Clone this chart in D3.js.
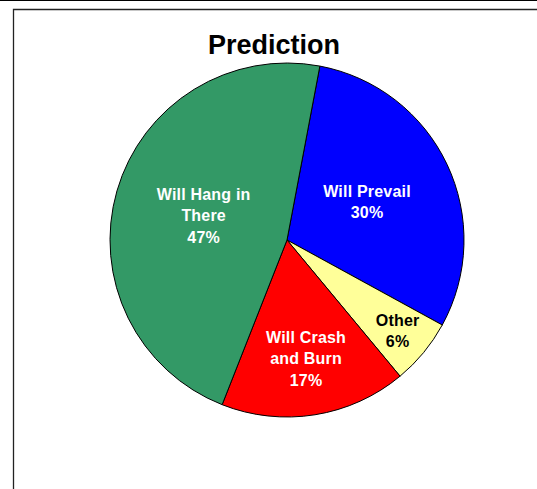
<!DOCTYPE html>
<html>
<head>
<meta charset="utf-8">
<script src="https://cdn.jsdelivr.net/npm/d3@7"></script>
<style>
  body { margin: 0; background: #fff; }
  svg { display: block; }
</style>
</head>
<body>
<svg width="537" height="489"></svg>
<script>
// slices, in drawing order (clockwise from the top)
const categories = ["Will Prevail", "Other", "Will Crash and Burn", "Will Hang in There"];
const values = [30, 6, 17, 47];
const labelLines = [["Will Prevail"], ["Other"], ["Will Crash", "and Burn"], ["Will Hang in", "There"]];
const colors = ["#0000FF", "#FFFF99", "#FF0000", "#339966"];
const textColors = ["#fff", "#000", "#fff", "#fff"];

const width = 537, height = 489;
const cx = 287, cy = 240, radius = 177;
const startDeg = 10.7;
// where the label sits along each slice, as a share of the radius
const labelRadius = [0.50, 0.81, 0.68, 0.49];

const svg = d3.select("svg");

// frame lines
svg.append("line").attr("x1", 0).attr("x2", width).attr("y1", 0.5).attr("y2", 0.5)
    .attr("stroke", "#000").attr("stroke-width", 1);
svg.append("path").attr("d", `M${width},9.5H13.5V${height}`)
    .attr("fill", "none").attr("stroke", "#222").attr("stroke-width", 1.3);

svg.append("text")
    .attr("x", 274).attr("y", 54)
    .attr("text-anchor", "middle")
    .style("font", "bold 27px 'Liberation Sans', Arial, sans-serif")
    .text("Prediction");

const total = d3.sum(values);
const start = startDeg * Math.PI / 180;
const pie = d3.pie().sort(null).startAngle(start).endAngle(start + 2 * Math.PI);
const arcs = pie(values);
const arc = d3.arc().innerRadius(0).outerRadius(radius);

const g = svg.append("g").attr("transform", `translate(${cx},${cy})`);

g.selectAll("path")
    .data(arcs)
    .join("path")
    .attr("d", arc)
    .attr("fill", (d, i) => colors[i])
    .attr("stroke", "#000")
    .attr("stroke-width", 1);

const lineH = 21.3;
const labels = g.selectAll("g.label")
    .data(arcs)
    .join("g")
    .attr("class", "label")
    .attr("transform", (d, i) => {
        const r = radius * labelRadius[i];
        const p = d3.arc().innerRadius(r).outerRadius(r).centroid(d);
        return `translate(${p[0]},${p[1]})`;
    });

labels.each(function(d, i) {
    const lines = labelLines[i].concat([Math.round(d.value / total * 100) + "%"]);
    const y0 = -(lines.length - 1) * lineH / 2 + 5.5;
    d3.select(this).selectAll("text")
        .data(lines)
        .join("text")
        .attr("x", 0)
        .attr("y", (t, j) => y0 + j * lineH)
        .attr("text-anchor", "middle")
        .attr("fill", textColors[i])
        .style("font", "bold 16px 'Liberation Sans', Arial, sans-serif")
        .style("letter-spacing", "0.2px")
        .text(t => t);
});
</script>
</body>
</html>
